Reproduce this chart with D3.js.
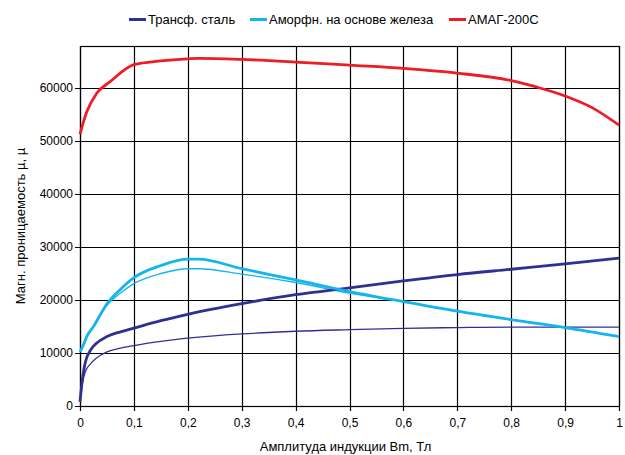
<!DOCTYPE html>
<html><head><meta charset="utf-8">
<script src="https://cdn.jsdelivr.net/npm/d3@7"></script>
<style>body{margin:0;background:#fff}svg{display:block;font-family:"Liberation Sans",Arial,sans-serif}</style>
</head><body><svg id="c" width="625" height="455"></svg>
<script>
const xTicks = [0,0.1,0.2,0.3,0.4,0.5,0.6,0.7,0.8,0.9,1];
const yTicks = [0,10000,20000,30000,40000,50000,60000];
const legendNames = ["Трансф. сталь","Аморфн. на основе железа","АМАГ-200С"];
const xTitle = "Амплитуда индукции Bm, Тл";
const yTitle = "Магн. проницаемость µ, µ";

const steelB = [0,0.005,0.01,0.02,0.03,0.05,0.075,0.1,0.15,0.2,0.3,0.4,0.5,0.6,0.7,0.8,0.9,1.0];
const steelThick = [800,5500,8300,10600,11800,13100,14000,14700,16100,17300,19300,21000,22300,23600,24800,25800,26800,27900];
const steelThin  = [800,4500,6500,8000,9000,10200,10900,11400,12200,12800,13600,14100,14400,14650,14800,14900,14900,14900];

const amorphB = [0,0.005,0.0125,0.025,0.05,0.075,0.1,0.15,0.2,0.22,0.3,0.4,0.5,0.6,0.7,0.8,0.9,1.0];
const amorphThick = [10200,11200,13100,15000,19300,22000,24200,26500,27700,27700,25900,23800,21600,19700,17900,16300,14800,13100];
const amorphThin  = [10200,11200,13100,15000,19000,21300,23100,25000,25900,25900,24900,23300,21300,19700,17900,16300,14800,13100];

const amagB = [0,0.0125,0.031,0.056,0.1,0.15,0.2,0.22,0.3,0.4,0.5,0.6,0.7,0.8,0.85,0.9,0.95,1.0];
const amagMu = [51300,55500,59000,61200,64400,65100,65500,65600,65400,64900,64300,63700,62800,61400,60100,58500,56300,53000];

const colors = ["#2E3192","#14B4EC","#EE1C25"];

const svg = d3.select("#c");
const L=80, R=619, T=46, B=406;
const x = d3.scaleLinear().domain([0,1]).range([L,R]);
const y = d3.scaleLinear().domain([0,60000]).range([B,88]);
const fmt = d => String(d).replace(".",",");

const g = svg.append("g");
g.selectAll(".vg").data(xTicks).enter().append("line")
  .attr("x1",d=>Math.round(x(d))+0.5).attr("x2",d=>Math.round(x(d))+0.5)
  .attr("y1",T).attr("y2",B+5).attr("stroke","#000").attr("stroke-width",1.2);
g.selectAll(".hg").data(yTicks).enter().append("line")
  .attr("y1",d=>Math.round(y(d))+0.5).attr("y2",d=>Math.round(y(d))+0.5)
  .attr("x1",L-5).attr("x2",R).attr("stroke","#000").attr("stroke-width",1.2);
g.append("rect").attr("x",L+0.5).attr("y",T+0.5).attr("width",R-L).attr("height",B-T)
  .attr("fill","none").attr("stroke","#000").attr("stroke-width",1.2);

const xAxis = d3.axisBottom(x).tickValues(xTicks).tickFormat(fmt).tickSize(0).tickPadding(12);
svg.append("g").attr("transform",`translate(0,${B})`).call(xAxis)
  .call(a=>a.select(".domain").remove())
  .selectAll("text").attr("font-size",12).attr("fill","#000").attr("font-family","Liberation Sans, Arial");
const yAxis = d3.axisLeft(y).tickValues(yTicks).tickFormat(d=>String(d)).tickSize(0).tickPadding(7);
svg.append("g").attr("transform",`translate(${L},0)`).call(yAxis)
  .call(a=>a.select(".domain").remove())
  .selectAll("text").attr("font-size",12).attr("fill","#000").attr("font-family","Liberation Sans, Arial");

svg.append("text").attr("x",(L+R)/2 - 4).attr("y",451).attr("text-anchor","middle")
  .attr("font-size",13).text(xTitle);
svg.append("text").attr("transform",`translate(25,${(T+B)/2}) rotate(-90)`).attr("text-anchor","middle")
  .attr("font-size",13).text(yTitle);

const line = (bs)=>d3.line().x((d,i)=>x(bs[i])).y(d=>y(d)).curve(d3.curveMonotoneX);
const series = [
  {b:steelB,v:steelThin,c:colors[0],w:1.3},
  {b:amorphB,v:amorphThin,c:colors[1],w:1.3},
  {b:steelB,v:steelThick,c:colors[0],w:2.8},
  {b:amorphB,v:amorphThick,c:colors[1],w:2.8},
  {b:amagB,v:amagMu,c:colors[2],w:2.8}
];
series.forEach(s=>{
  svg.append("path").datum(s.v).attr("d",line(s.b)).attr("fill","none")
    .attr("stroke",s.c).attr("stroke-width",s.w).attr("stroke-linejoin","round");
});

const legX = [129,250,449];
legendNames.forEach((n,i)=>{
  svg.append("line").attr("x1",legX[i]).attr("x2",legX[i]+17).attr("y1",19.5).attr("y2",19.5)
    .attr("stroke",colors[i]).attr("stroke-width",3);
  svg.append("text").attr("x",legX[i]+19).attr("y",19).attr("dy","0.35em")
    .attr("font-size",13).text(n);
});
</script></body></html>
